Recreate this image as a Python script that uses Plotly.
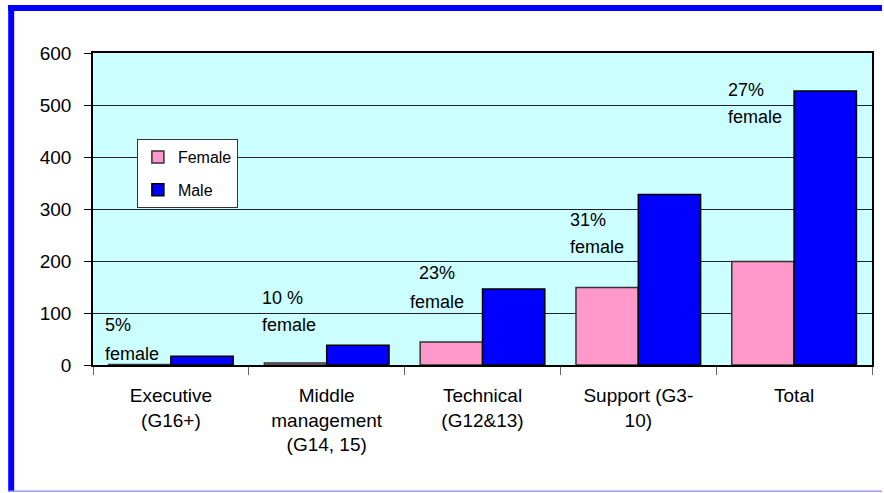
import plotly.graph_objects as go

categories = ["Executive<br>(G16+)", "Middle<br>management<br>(G14, 15)", "Technical<br>(G12&13)",
              "Support (G3-<br>10)", "Total"]
female = [1, 4, 44, 149, 199]
male = [17, 38, 146, 328, 527]
pct_labels = ["5%", "10 %", "23%", "31%", "27%"]
y_ticks = [0, 100, 200, 300, 400, 500, 600]

W, H = 884, 493
L, R, T, B = 93, 874, 53, 365  # plot area pixel bounds

def px(x):
    return (x - L) / (R - L)

def py(y):
    return (B - y) / (B - T)

FONT = "Liberation Sans, Arial, sans-serif"

fig = go.Figure()
fig.add_bar(name="Female", x=categories, y=female, legendgroup="f",
            marker=dict(color="#FF99CC", line=dict(color="#333333", width=1.5)))
fig.add_bar(name="Male", x=categories, y=male, legendgroup="m",
            marker=dict(color="#0000FF", line=dict(color="#000000", width=1.5)))

pct_y = [76, 128, 176, 278, 529]
fem_y = [22, 76, 122, 226, 477]
shifts_pct = [-68, -67, -66, -70, -68]
shifts_fem = [-68, -67, -75, -70, -68]
for i, c in enumerate(categories):
    fig.add_annotation(x=c, y=pct_y[i], text=pct_labels[i], showarrow=False, xanchor="left",
                       xshift=shifts_pct[i], yanchor="middle", font=dict(size=18, color="black", family=FONT))
    fig.add_annotation(x=c, y=fem_y[i], text="female", showarrow=False, xanchor="left",
                       xshift=shifts_fem[i], yanchor="middle", font=dict(size=18, color="black", family=FONT))

shapes = [
    dict(type="rect", xref="paper", yref="paper", x0=px(8), x1=px(884), y0=py(11), y1=py(5),
         fillcolor="#0000FF", line=dict(width=0), layer="above"),
    dict(type="rect", xref="paper", yref="paper", x0=px(8), x1=px(14), y0=py(492), y1=py(5),
         fillcolor="#0000FF", line=dict(width=0), layer="above"),
    dict(type="rect", xref="paper", yref="paper", x0=px(8), x1=px(884), y0=py(492), y1=py(490.5),
         fillcolor="#9999FF", line=dict(width=0), layer="above"),
]

fig.update_layout(
    width=W, height=H,
    margin=dict(l=L, r=W - R, t=T, b=H - B, pad=0),
    paper_bgcolor="white", plot_bgcolor="#CCFFFF",
    barmode="group", bargap=0.2, bargroupgap=0,
    font=dict(family=FONT, size=18, color="black"),
    showlegend=True,
    legend=dict(x=px(137), y=py(139), xanchor="left", yanchor="top",
                bgcolor="white", bordercolor="#333333", borderwidth=1,
                font=dict(size=16, family=FONT), tracegroupgap=9, itemwidth=30),
    shapes=shapes,
    xaxis=dict(showline=True, linecolor="black", linewidth=2, mirror=True,
               ticks="outside", tickson="boundaries", ticklen=8, tickcolor="#666666",
               tickfont=dict(size=19, family=FONT), showgrid=False, ticklabelstandoff=12),
    yaxis=dict(range=[0, 600], tickvals=y_ticks, showline=True, linecolor="black", linewidth=1.5, mirror=True,
               ticks="outside", ticklen=7, tickcolor="black", showgrid=True, gridcolor="#222222", gridwidth=1,
               tickfont=dict(size=19, family=FONT), zeroline=False, ticklabelstandoff=9),
)

fig.write_html("out.html", config={"displayModeBar": False},
               post_script="document.body.style.margin='0';document.body.style.padding='0';")
